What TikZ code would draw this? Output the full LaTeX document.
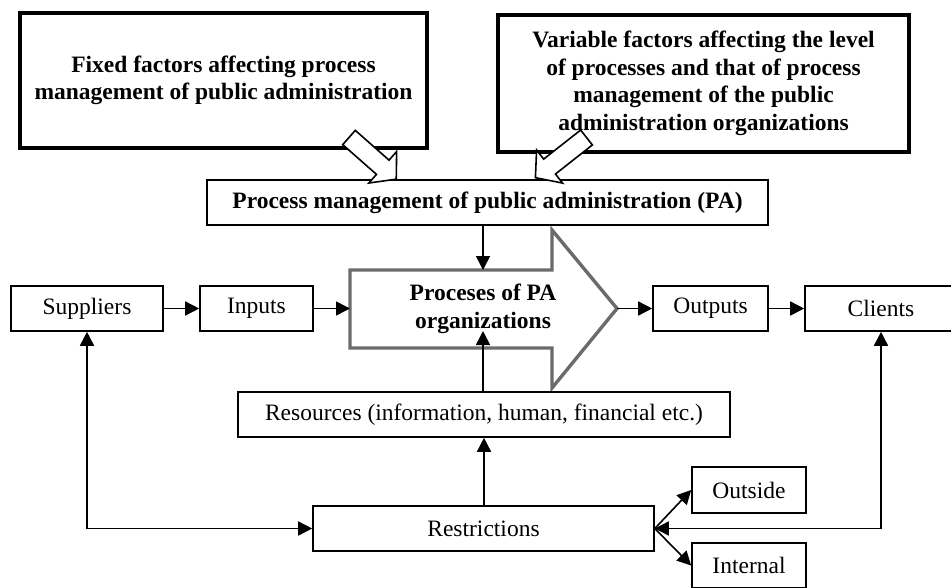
\documentclass[tikz,border=0pt]{standalone}
\usepackage{fontspec}
\setmainfont{Liberation Serif}
\usetikzlibrary{arrows.meta}
\begin{document}
\begin{tikzpicture}[x=1pt,y=-1pt,
  every node/.style={font=\fontsize{23.5}{28}\selectfont},
  box/.style={draw=black,line width=1.6pt,fill=white,inner sep=0pt,align=center},
  bigbox/.style={draw=black,line width=3.6pt,fill=white,inner sep=0pt,align=center,font=\fontsize{23.5}{27.5}\selectfont\bfseries},
  arr/.style={line width=1.6pt,-{Triangle[length=14pt,width=14pt]}},
  darr/.style={line width=1.6pt,{Triangle[length=14pt,width=14pt]}-{Triangle[length=14pt,width=14pt]}},
  hollow/.style={draw=black,line width=1.6pt,fill=white,line join=miter},
  procshape/.style={draw=black!58,line width=3.4pt,fill=white,line join=miter}]
\useasboundingbox (0,0) rectangle (951,587);
\clip (0,0) rectangle (951,587);

% top boxes
\node[bigbox,minimum width=407pt,minimum height=135pt] (fixed) at (223.5,80.5)
  {Fixed factors affecting process\\management of public administration};
\node[bigbox,minimum width=411pt,minimum height=137pt] (variable) at (703.5,83.5)
  {Variable factors affecting the level\\of processes and that of process\\management of the public\\administration organizations};

% process management box
\node[box,line width=2pt,minimum width=561pt,minimum height=45pt,font=\fontsize{23.5}{28}\selectfont\bfseries] (pa) at (487.5,202.5)
  {Process management of public administration (PA)};

% hollow arrows from top boxes
\begin{scope}[shift={(349,137.5)},rotate=-41.4]
  \draw[hollow] (0,-9.5) -- (45,-9.5) -- (45,-21) -- (63,0) -- (45,21) -- (45,9.5) -- (0,9.5) -- cycle;
\end{scope}
\begin{scope}[shift={(586.5,137.5)},rotate=-141.8]
  \draw[hollow] (0,-9.5) -- (47,-9.5) -- (47,-21) -- (65,0) -- (47,21) -- (47,9.5) -- (0,9.5) -- cycle;
\end{scope}

% main process arrow
\draw[procshape] (350,270) -- (552,270) -- (552,230) -- (617,308.5) -- (552,388) -- (552,348) -- (350,348) -- cycle;
\node[font=\fontsize{23.5}{28}\selectfont\bfseries,align=center] (proc) at (483,308.5) {Proceses of PA\\organizations};
\coordinate (procL) at (350,308.5);
\coordinate (procT) at (483,270);
\coordinate (procB) at (483,331);
\coordinate (procTip) at (617,308.5);

% row boxes
\node[box,minimum width=152pt,minimum height=45pt] (suppliers) at (87,308.5) {Suppliers};
\node[box,minimum width=113pt,minimum height=45pt] (inputs) at (256.5,308.5) {Inputs};
\node[box,minimum width=115pt,minimum height=45pt] (outputs) at (710.5,308.5) {Outputs};
\node[box,minimum width=152pt,minimum height=45pt] (clients) at (881,308.5) {Clients};

\node[box,minimum width=492pt,minimum height=45pt] (resources) at (484,414.5) {Resources (information, human, financial etc.)};
\node[box,minimum width=341pt,minimum height=45pt] (restrictions) at (483.5,528.5) {Restrictions};
\node[box,minimum width=114pt,minimum height=46pt] (outside) at (749,490) {Outside};
\node[box,minimum width=114pt,minimum height=45pt] (internal) at (749,565.5) {Internal};

% connectors
\draw[arr] (suppliers.east) -- (inputs.west);
\draw[arr] (inputs.east) -- (procL);
\draw[arr] (procTip) -- (outputs.west);
\draw[arr] (outputs.east) -- (clients.west);
\draw[arr] (pa.south -| procT) -- (procT);
\draw[arr] (resources.north -| procB) -- (procB);
\draw[arr] (restrictions.north -| resources.south) -- (resources.south);
\draw[darr] (suppliers.south) -- (suppliers.south |- restrictions.west) -- (restrictions.west);
\draw[darr] (clients.south) -- (clients.south |- restrictions.east) -- (restrictions.east);
\draw[arr] (restrictions.east) -- (outside.west);
\draw[arr] (restrictions.east) -- (internal.west);
\end{tikzpicture}
\end{document}
